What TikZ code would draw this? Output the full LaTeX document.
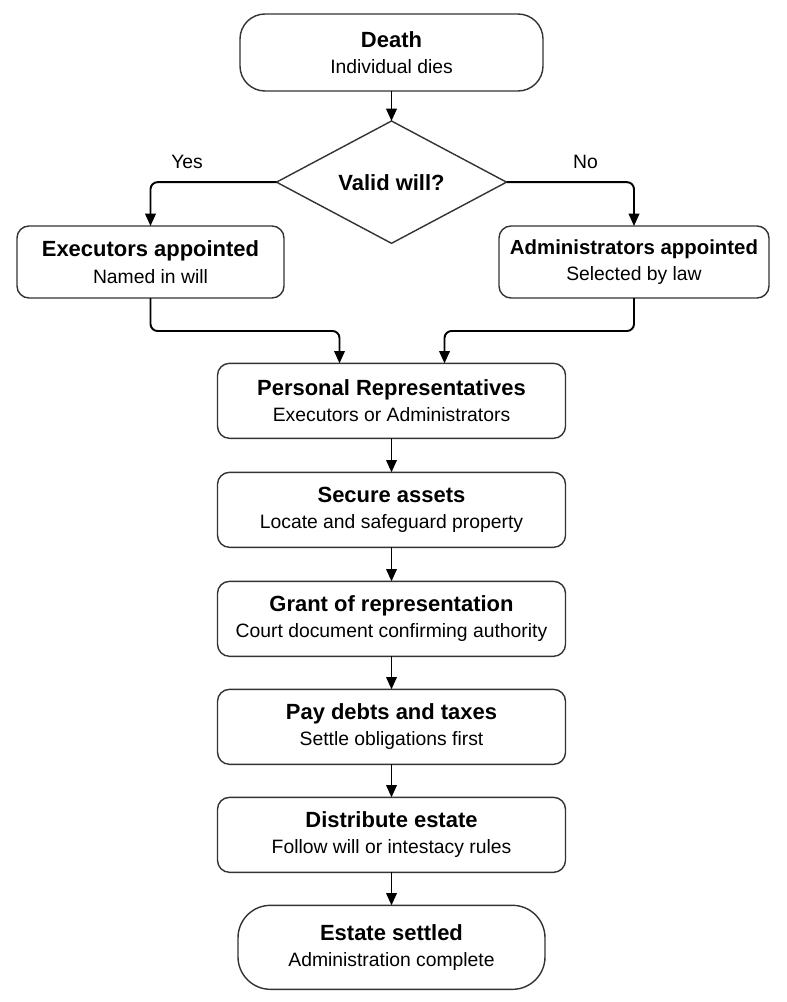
\documentclass[tikz,border=0pt]{standalone}
\usepackage{fontspec}
\setmainfont{Liberation Sans}
\usetikzlibrary{positioning,shapes.geometric,arrows.meta}

\newcommand{\boxtext}[3][12.5]{{\fontsize{#1}{15}\selectfont\bfseries #2}\\[1pt]#3}

\tikzset{
  box/.style={draw=black!80, line width=0.8pt, rounded corners=0.24cm, align=center,
    minimum width=6.96cm, minimum height=1.5cm, inner sep=0pt, outer sep=0pt,
    font=\fontsize{11}{14}\selectfont},
  term/.style={box, rounded corners=0.5cm},
  side/.style={box, minimum height=1.44cm},
  choice/.style={draw=black!80, line width=0.8pt, diamond, minimum width=4.6cm,
    minimum height=2.42cm, inner sep=0pt, outer sep=0pt, font=\fontsize{12.5}{15}\selectfont\bfseries},
  arr/.style={-{Stealth[length=7pt,width=6pt,inset=0pt]}, line width=1.1pt, rounded corners=4pt},
  lbl/.style={font=\fontsize{11}{14}\selectfont, yshift=3.5pt}
}

\begin{document}
\begin{tikzpicture}
\useasboundingbox (0,0) rectangle (15.72,-20.04);

\node[term, minimum width=6.06cm, minimum height=1.54cm](death) at (7.83,-1.05){\boxtext{Death}{Individual dies}};
\node[choice, below=0.6cm of death](will){Valid will?};
\node[side, minimum width=5.34cm](exec) at (3.01,-5.24){\boxtext{Executors appointed}{Named in will}};
\node[side, minimum width=5.4cm](admin) at (12.68,-5.24){\boxtext[11.6]{Administrators appointed}{Selected by law}};
\node[box, below=2.4cm of will](rep){\boxtext{Personal Representatives}{Executors or Administrators}};
\node[box, below=0.68cm of rep](secure){\boxtext{Secure assets}{Locate and safeguard property}};
\node[box, below=0.68cm of secure](grant){\boxtext{Grant of representation}{Court document confirming authority}};
\node[box, below=0.66cm of grant](debts){\boxtext{Pay debts and taxes}{Settle obligations first}};
\node[box, below=0.66cm of debts](distrib){\boxtext{Distribute estate}{Follow will or intestacy rules}};
\node[term, rounded corners=0.65cm, minimum width=6.14cm, minimum height=1.68cm, below=0.66cm of distrib](settled){\boxtext{Estate settled}{Administration complete}};

\draw[arr] (death) -- (will);
\draw[arr] (will.west) -| node[lbl, pos=0.355, above]{Yes} (exec.north);
\draw[arr] (will.east) -| node[lbl, pos=0.31, above]{No} (admin.north);
\draw[arr] (exec.south) -- ++(0,-0.66) -| ([xshift=-1.04cm]rep.north);
\draw[arr] (admin.south) -- ++(0,-0.66) -| ([xshift=1.06cm]rep.north);
\draw[arr] (rep) -- (secure);
\draw[arr] (secure) -- (grant);
\draw[arr] (grant) -- (debts);
\draw[arr] (debts) -- (distrib);
\draw[arr] (distrib) -- (settled);
\end{tikzpicture}
\end{document}
